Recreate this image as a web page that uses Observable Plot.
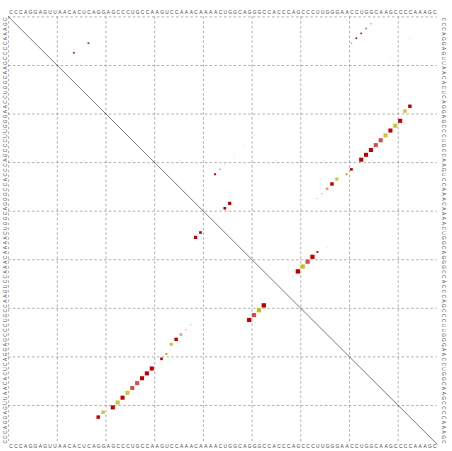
<!DOCTYPE html>
<html><head><meta charset="utf-8">
<script src="https://cdn.jsdelivr.net/npm/d3@7"></script>
<script src="https://cdn.jsdelivr.net/npm/@observablehq/plot@0.6"></script>
<style>html,body{margin:0;padding:0;background:#fff}#chart svg{display:block}</style>
</head><body><div id="chart"></div>
<script>
// consensus sequence (one letter per nucleotide)
const sequence = "CCCAGGAGUUAACACUCAGGAGCCCUGCCAAGUCCAAACAAAACUGGCAGGGCCACCCAGCCCUUGGGAACCUGGCAAGCCCCAAAGC";

// base pairs (i < j), probability, number of pair types, saturation (consistency), shown in MFE (lower-left) triangle
const pairI    = [19,20,22,23,24,25,26,27,28,29,30,32,33,34,35,36,37,38, 39,40, 50,51,52,53,  2, 3, 4, 5, 6,  6, 8, 33,32,31,29,27,25, 49,54,48,  5, 6, 9, 57];
const pairJ    = [83,82,81,80,79,78,77,76,75,74,73,71,70,68,67,66,65,64, 46,45, 63,62,61,60, 75,74,73,72,71, 17,14, 43,44,45,47,49,51, 64,59,66, 83,81,79, 67];
const pairProb = [.50,.50,.70,.70,.70,.70,.70,.70,.70,.70,.70,.30,.18,.40,.50,.30,.08,.06, .45,.30, .75,.75,.75,.80, .10,.12,.10,.12,.10, .15,.15, .16,.08,.04,.03,.03,.03, .15,.05,.03, .03,.02,.02, .02];
const pairTypes= [1,2,1,2,1,2,1,1,1,1,1,1,2,2,1,1,1,1, 1,1, 1,1,2,1, 1,1,1,1,1, 1,1, 1,1,1,1,1,1, 1,1,1, 1,1,1, 2];
const pairSat  = [1,.8,1,.8,1,.8,.7,.7,1,1,1,1,1,.8,1,.4,.3,.3, 1,1, 1,.7,.9,1, .35,.6,1,1,.4, .8,.8, 1,.5,.3,.25,.25,.25, 1,.3,.3, .3,.25,.25, .3];
const pairMfe  = [1,1,1,1,1,1,1,1,1,1,1,1,1,1,1,1,1,1, 1,1, 1,1,1,1, 0,0,0,0,0, 0,0, 0,0,0,0,0,0, 0,0,0, 0,0,0, 0];

const N = sequence.length;
const letters = sequence.split("");
const typeColor = {1: "#c00000", 2: "#c2b600"};

const pairs = pairI.map((i, k) => ({
  i, j: pairJ[k], p: pairProb[k], mfe: pairMfe[k] === 1,
  color: d3.interpolateRgb("#ffffff", typeColor[pairTypes[k]])(pairSat[k])
}));
const half = d => Math.sqrt(d.p) / 2;
const gridTicks = d3.range(0, N, 10).map(k => k + 0.5);
const diag = [[0.5, 0.5], [N + 0.5, N + 0.5]];

const x0 = 8.1, y0 = 16.4, cellX = 4.87, cellY = 4.857;
const font = "Liberation Sans, Arial, Helvetica, sans-serif";
const ink = "#444";

const chart = Plot.plot({
  width: 452, height: 451,
  x: {domain: [0.5, N + 0.5], range: [x0, x0 + N * cellX], axis: null},
  y: {domain: [0.5, N + 0.5], range: [y0, y0 + N * cellY], axis: null},
  color: {type: "identity"},
  style: {background: "#fff"},
  marks: [
    Plot.ruleX(gridTicks, {x: d => d, y1: () => 0.5, y2: () => N + 0.5, stroke: "#8a8a8a", strokeWidth: 0.7, strokeDasharray: "2.4,2.4"}),
    Plot.ruleY(gridTicks, {y: d => d, x1: () => 0.5, x2: () => N + 0.5, stroke: "#8a8a8a", strokeWidth: 0.7, strokeDasharray: "2.4,2.4"}),
    Plot.line(diag, {x: d => d[0], y: d => d[1], stroke: "#222", strokeWidth: 0.6}),
    // upper-right: all pairs (x = j, y = i)
    Plot.rect(pairs, {x1: d => d.j - half(d), x2: d => d.j + half(d), y1: d => d.i - half(d), y2: d => d.i + half(d), fill: d => d.color}),
    // lower-left: MFE pairs (x = i, y = j)
    Plot.rect(pairs.filter(d => d.mfe), {x1: d => d.i - half(d), x2: d => d.i + half(d), y1: d => d.j - half(d), y2: d => d.j + half(d), fill: d => d.color}),
    // sequence on four sides
    Plot.text(letters, {x: (d, k) => k + 1, y: () => 0.5, text: d => d, dy: -4, fontSize: 4.8, fontFamily: font, fill: ink}),
    Plot.text(letters, {x: (d, k) => k + 1, y: () => N + 0.5, text: d => d, dy: 2.5, fontSize: 4.8, fontFamily: font, fill: ink}),
    Plot.text(letters, {x: () => 0.5, y: (d, k) => N - k, text: d => d, dx: -3, rotate: -90, fontSize: 4.8, fontFamily: font, fill: ink}),
    Plot.text(letters, {x: () => N + 0.5, y: (d, k) => k + 1, text: d => d, dx: 6, rotate: 90, fontSize: 4.8, fontFamily: font, fill: ink})
  ]
});
document.getElementById("chart").append(chart);
</script>
</body></html>
